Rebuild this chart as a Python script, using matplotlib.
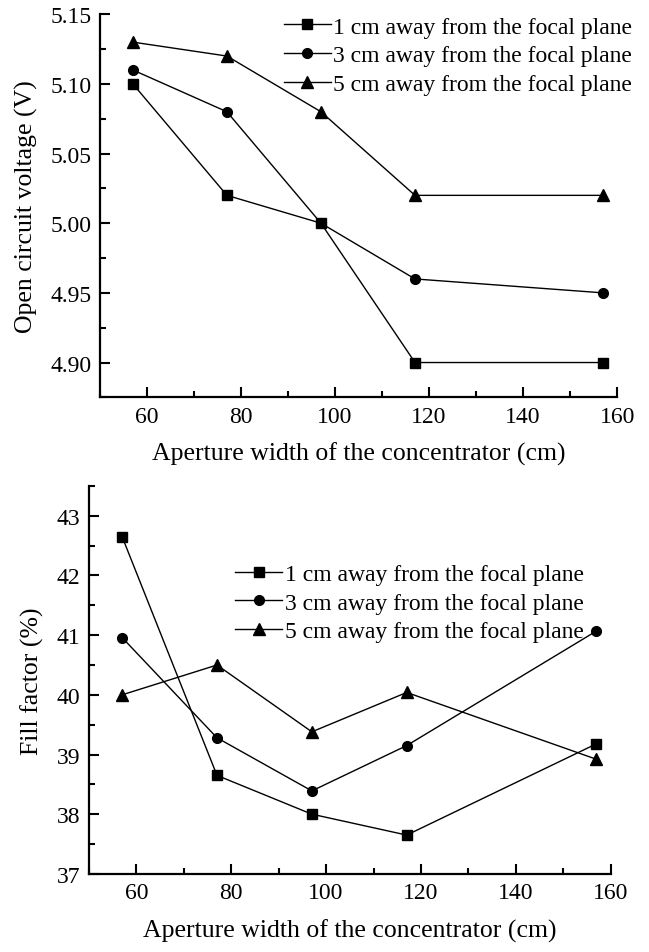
import numpy as np
import matplotlib
matplotlib.use('Agg')
import matplotlib.pyplot as plt
from matplotlib.ticker import MultipleLocator, FormatStrFormatter

plt.rcParams['font.family'] = ['Liberation Serif', 'DejaVu Serif']
plt.rcParams['mathtext.fontset'] = 'stix'

aperture = [57, 77, 97, 117, 157]
labels = ['1 cm away from the focal plane',
          '3 cm away from the focal plane',
          '5 cm away from the focal plane']
markers = ['s', 'o', '^']

voc_1cm = [5.10, 5.02, 5.00, 4.90, 4.90]
voc_3cm = [5.11, 5.08, 5.00, 4.96, 4.95]
voc_5cm = [5.13, 5.12, 5.08, 5.02, 5.02]

ff_1cm = [42.65, 38.65, 38.00, 37.65, 39.18]
ff_3cm = [40.96, 39.28, 38.39, 39.15, 41.07]
ff_5cm = [40.00, 40.50, 39.38, 40.04, 38.92]

FS = 17      # ticks, legend
FS_LAB = 18.5  # axis titles


def style_axes(ax):
    for side in ['top', 'right']:
        ax.spines[side].set_visible(False)
    for side in ['left', 'bottom']:
        ax.spines[side].set_linewidth(1.6)
    ax.tick_params(which='both', direction='in', width=1.5,
                   labelsize=FS, pad=6)
    ax.tick_params(which='major', length=7)
    ax.tick_params(which='minor', length=4)
    ax.set_xlim(50, 160)
    ax.xaxis.set_major_locator(MultipleLocator(20))
    ax.xaxis.set_minor_locator(MultipleLocator(10))
    ax.set_xlabel('Aperture width of the concentrator (cm)', fontsize=FS_LAB,
                  labelpad=11)


fig = plt.figure(figsize=(6.49, 9.53), dpi=100)

# open circuit voltage
ax1 = fig.add_axes([0.154, 0.582, 0.797, 0.402])
for y, m, lab in zip([voc_1cm, voc_3cm, voc_5cm], markers, labels):
    ax1.plot(aperture, y, color='black', lw=1.0, marker=m,
             ms=8 if m == '^' else 7, label=lab)
style_axes(ax1)
ax1.set_ylim(4.875, 5.15)
ax1.yaxis.set_major_locator(MultipleLocator(0.05))
ax1.yaxis.set_minor_locator(MultipleLocator(0.025))
ax1.yaxis.set_major_formatter(FormatStrFormatter('%.2f'))
ax1.set_ylabel('Open circuit voltage (V)', fontsize=FS_LAB, labelpad=9)
ax1.legend(loc='upper left', bbox_to_anchor=(0.355, 0.995), frameon=False,
           fontsize=FS, handlelength=2.0, handletextpad=0.1,
           labelspacing=0.3, borderpad=0, borderaxespad=0)

# fill factor
ax2 = fig.add_axes([0.137, 0.082, 0.804, 0.407])
for y, m, lab in zip([ff_1cm, ff_3cm, ff_5cm], markers, labels):
    ax2.plot(aperture, y, color='black', lw=1.0, marker=m,
             ms=8 if m == '^' else 7, label=lab)
style_axes(ax2)
ax2.set_ylim(37, 43.5)
ax2.yaxis.set_major_locator(MultipleLocator(1))
ax2.yaxis.set_minor_locator(MultipleLocator(0.5))
ax2.set_ylabel('Fill factor (%)', fontsize=FS_LAB, labelpad=9)
ax2.legend(loc='upper left', bbox_to_anchor=(0.28, 0.80), frameon=False,
           fontsize=FS, handlelength=2.0, handletextpad=0.1,
           labelspacing=0.3, borderpad=0, borderaxespad=0)

fig.savefig('out.png', dpi=100)
